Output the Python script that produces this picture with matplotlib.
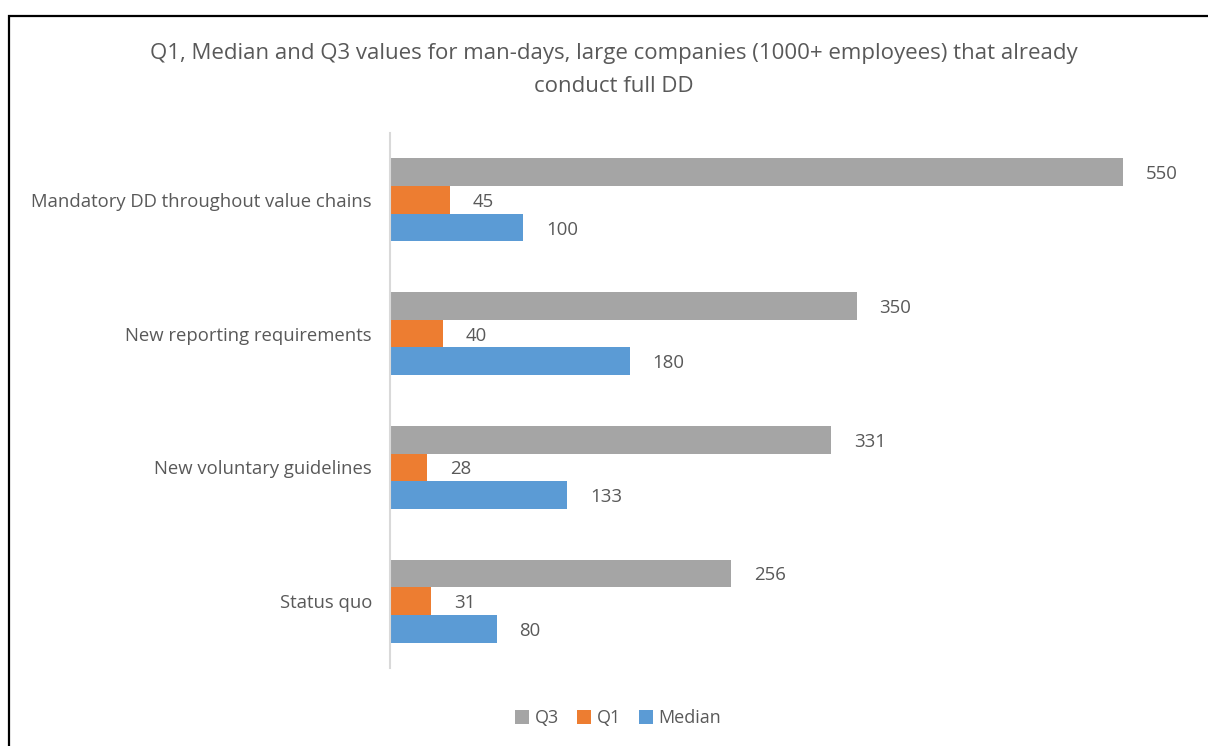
import matplotlib.pyplot as plt
import numpy as np
from matplotlib.patches import Rectangle
import matplotlib.transforms as mtransforms

categories = ["Mandatory DD throughout value chains", "New reporting requirements",
              "New voluntary guidelines", "Status quo"]
q3 = [550, 350, 331, 256]
q1 = [45, 40, 28, 31]
median = [100, 180, 133, 80]

series = [("Q3", q3, "#a5a5a5"), ("Q1", q1, "#ed7d31"), ("Median", median, "#5b9bd5")]
text_color = "#595959"

plt.rcParams['font.family'] = ['Open Sans', 'DejaVu Sans']

W, H = 1208, 746
fig = plt.figure(figsize=(W / 100, H / 100), dpi=100)

# plot area in pixels: x 390..1190, y 133..668
ax = fig.add_axes([390 / W, 1 - 668 / H, 800 / W, 535 / H])

# nudge value labels a couple of pixels down
shift = mtransforms.offset_copy(ax.transData, fig=fig, x=0, y=-2, units='dots')

y = np.arange(len(categories))
bh = 0.207
for i, (name, vals, col) in enumerate(series):
    pos = y + (i - 1) * bh
    ax.barh(pos, vals, height=bh, color=col, label=name)
    for p, v in zip(pos, vals):
        ax.text(v + 17, p, str(v), va='center', ha='left', fontsize=13.4, color=text_color,
                transform=shift)

ax.set_xlim(0, 600)
ax.set_ylim(len(categories) - 0.5, -0.5)
ax.set_yticks(y)
ax.set_yticklabels(categories, fontsize=13.3, color=text_color)
ax.tick_params(axis='y', length=0, pad=13)
ax.set_xticks([])
for s in ['top', 'right', 'bottom']:
    ax.spines[s].set_visible(False)
ax.spines['left'].set_color('#d9d9d9')
ax.spines['left'].set_linewidth(1.5)

fig.text(614 / W, 1 - 54 / H, "Q1, Median and Q3 values for man-days, large companies (1000+ employees) that already",
         ha='center', va='center', fontsize=16, color=text_color)
fig.text(614 / W, 1 - 86 / H, "conduct full DD", ha='center', va='center', fontsize=16, color=text_color)

leg = fig.legend(loc='center', bbox_to_anchor=(618 / W, 1 - 718 / H), ncol=3, frameon=False,
                 fontsize=13, handlelength=0.8, handleheight=0.8, handletextpad=0.3,
                 columnspacing=1.0)
for t in leg.get_texts():
    t.set_color(text_color)

# outer border (only left and top visible in the crop)
fig.patches.append(Rectangle((9 / W, -0.1), 1.2, 1 - 16 / H + 0.1, transform=fig.transFigure,
                             fill=False, edgecolor='black', linewidth=1.6))

fig.savefig("out.png", dpi=100)
